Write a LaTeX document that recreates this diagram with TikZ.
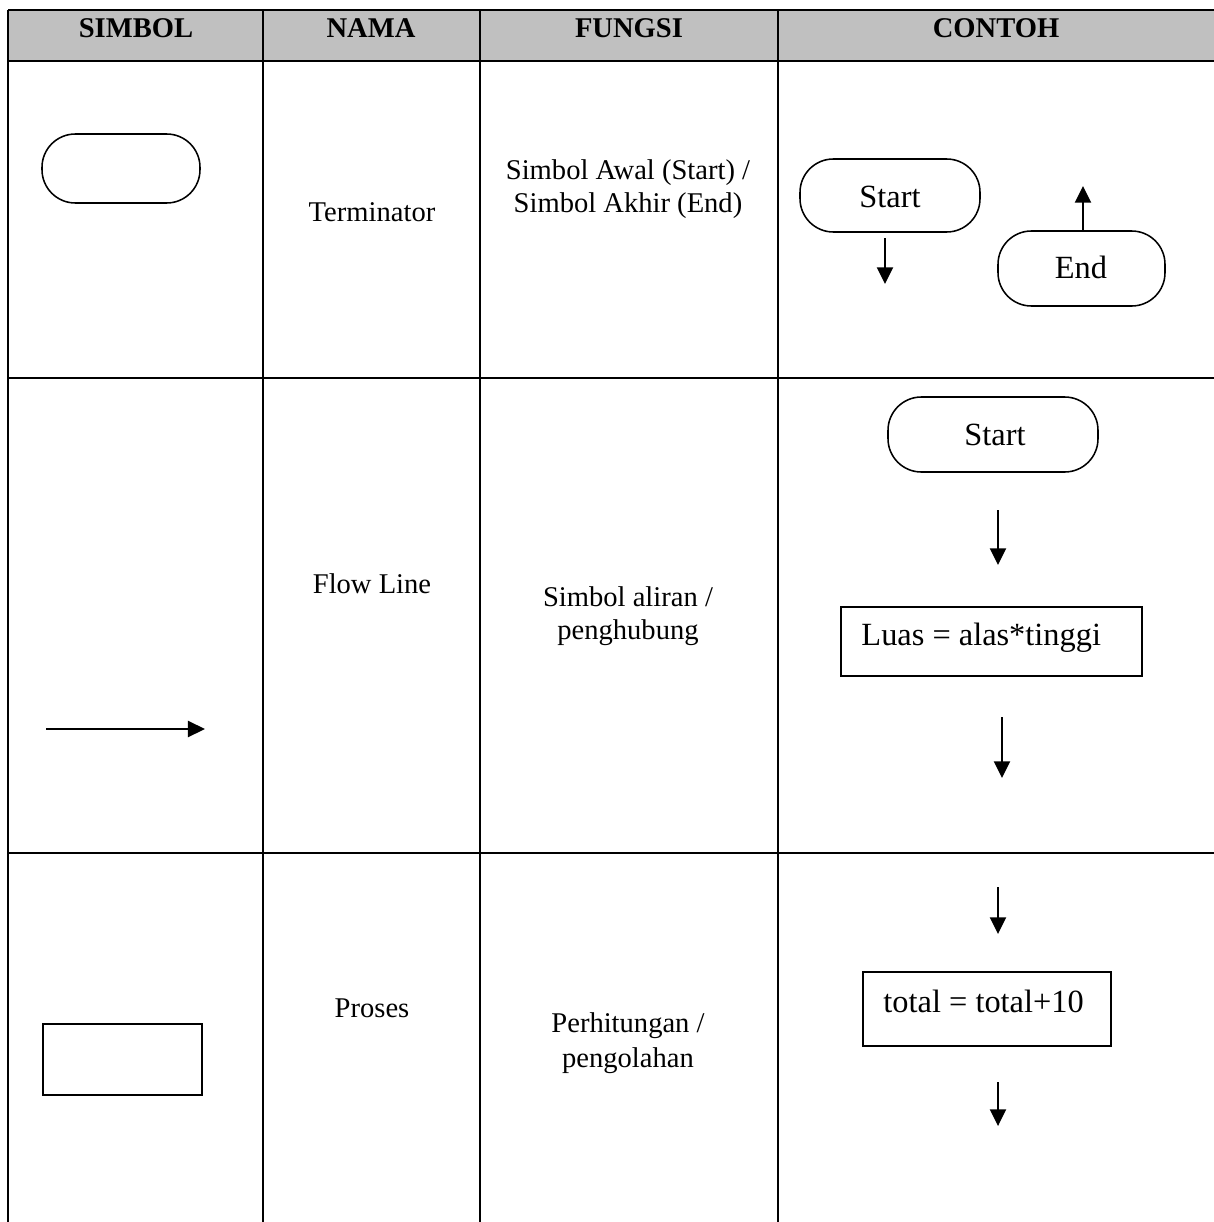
\documentclass[tikz,border=0pt]{standalone}
\usepackage{fontspec}
\setmainfont{Liberation Serif}
\usetikzlibrary{arrows.meta}
\definecolor{hdrgray}{RGB}{192,192,192}
\begin{document}
\begin{tikzpicture}[x=0.42pt,y=-0.42pt,
  rule/.style={line width=1pt},
  txt/.style={font=\fontsize{12}{14}\selectfont, inner sep=0pt, anchor=base},
  boxtxt/.style={font=\fontsize{13.6}{16}\selectfont, inner sep=0pt, anchor=base},
  hdr/.style={font=\fontsize{12}{14}\selectfont\bfseries, inner sep=0pt, anchor=base},
  termbox/.style={draw, line width=0.65pt, rounded corners=14pt, inner sep=0pt},
  procbox/.style={draw, line width=0.75pt, inner sep=0pt},
  flow/.style={line width=0.65pt, -{Triangle[width=6.8pt,length=7pt]}}]
\useasboundingbox (0,0) rectangle (1214,1222);
\clip (0,0) rectangle (1214,1222);

% header band
\fill[hdrgray] (8,10) rectangle (1230,61);

% table rules
\draw[rule] (1230,10) -- (8,10);
\draw[rule] (1230,61) -- (8,61);
\draw[rule] (1230,378) -- (8,378);
\draw[rule] (1230,853) -- (8,853);
\draw[rule] (8,10) -- (8,1240);
\draw[rule] (263,10) -- (263,1240);
\draw[rule] (480,10) -- (480,1240);
\draw[rule] (778,10) -- (778,1240);

% header labels
\node[hdr] (hsimbol) at (136,38) {SIMBOL};
\node[hdr] (hnama)   at (371,38) {NAMA};
\node[hdr] (hfungsi) at (629,38) {FUNGSI};
\node[hdr] (hcontoh) at (996,38) {CONTOH};

% ---- row 1: terminator ----
\node[termbox, minimum width=158*0.42pt, minimum height=69*0.42pt] (symterm) at (121,168.5) {};
\node[txt] (nterm) at (372,221) {Terminator};
\node[txt] (fterm1) at (628,179) {Simbol Awal (Start) /};
\node[txt] (fterm2) at (628,212) {Simbol Akhir (End)};

\node[termbox, minimum width=180*0.42pt, minimum height=73*0.42pt] (start1) at (890,195.5) {};
\node[boxtxt] (start1t) at (890,207) {Start};
\coordinate (a1s) at (885,238);
\coordinate (a1e) at (885,284);
\draw[flow] (a1s) -- (a1e);

\node[termbox, minimum width=167*0.42pt, minimum height=75*0.42pt] (end1) at (1081.5,268.5) {};
\node[boxtxt] (end1t) at (1081,278) {End};
\coordinate (a2e) at (1083,186);
\draw[flow] (end1.north -| a2e) -- (a2e);

% ---- row 2: flow line ----
\coordinate (fls) at (46,729);
\coordinate (fle) at (205,729);
\draw[flow, line width=0.8pt, -{Triangle[width=6.8pt,length=7.2pt]}] (fls) -- (fle);
\node[txt] (nflow) at (372,593) {Flow Line};
\node[txt] (fflow1) at (628,606) {Simbol aliran /};
\node[txt] (fflow2) at (628,639) {penghubung};

\node[termbox, minimum width=210*0.42pt, minimum height=75*0.42pt] (start2) at (993,434.5) {};
\node[boxtxt] (start2t) at (995,445) {Start};
\coordinate (a3s) at (998,510);
\coordinate (a3e) at (998,565);
\draw[flow] (a3s) -- (a3e);

\node[procbox, minimum width=301*0.42pt, minimum height=69*0.42pt] (luas) at (991.5,641.5) {};
\node[boxtxt, anchor=base west] (luast) at (861,645) {Luas = alas*tinggi};
\coordinate (a4s) at (1002,717);
\coordinate (a4e) at (1002,778);
\draw[flow] (a4s) -- (a4e);

% ---- row 3: process ----
\node[procbox, minimum width=159*0.42pt, minimum height=71*0.42pt] (symproc) at (122.5,1059.5) {};
\node[txt] (nproc) at (372,1017) {Proses};
\node[txt] (fproc1) at (628,1032) {Perhitungan /};
\node[txt] (fproc2) at (628,1067) {pengolahan};

\coordinate (a5s) at (998,887);
\coordinate (a5e) at (998,934);
\draw[flow] (a5s) -- (a5e);
\node[procbox, minimum width=248*0.42pt, minimum height=74*0.42pt] (total) at (987,1009) {};
\node[boxtxt, anchor=base west] (totalt) at (883,1012) {total = total+10};
\coordinate (a6s) at (998,1082);
\coordinate (a6e) at (998,1126);
\draw[flow] (a6s) -- (a6e);
\end{tikzpicture}
\end{document}
